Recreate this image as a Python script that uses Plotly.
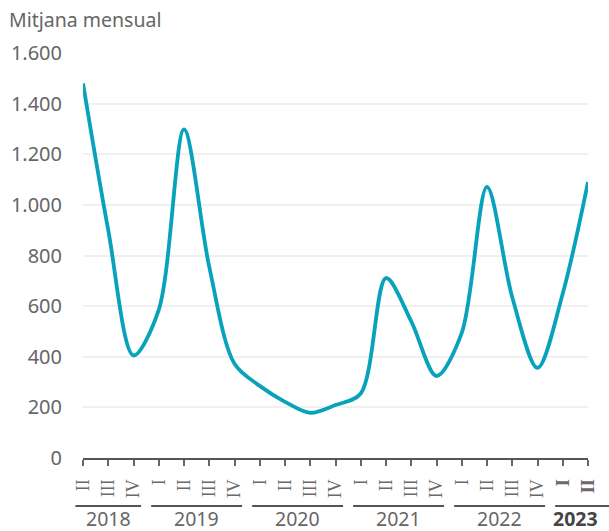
import plotly.graph_objects as go

quarters = ["II", "III", "IV",
            "I", "II", "III", "IV",
            "I", "II", "III", "IV",
            "I", "II", "III", "IV",
            "I", "II", "III", "IV",
            "I", "II"]
years = [2018] * 3 + [2019] * 4 + [2020] * 4 + [2021] * 4 + [2022] * 4 + [2023] * 2
values = [1480, 900, 405,
          585, 1298, 755, 372,
          285, 222, 178, 209,
          255, 711, 540, 324,
          494, 1071, 635, 356,
          650, 1090]
year_labels = [2018, 2019, 2020, 2021, 2022, 2023]
y_ticks = [0, 200, 400, 600, 800, 1000, 1200, 1400, 1600]

def fmt(v):
    return f"{v:,}".replace(",", ".")

x = list(range(len(values)))
tick_text = [f"<b>{q}</b>" if y == 2023 else q for q, y in zip(quarters, years)]

TEXT = "#666666"
AXIS = "#555555"
FONT = "Noto Sans"

W, H = 609, 531
ML, MR, MT, MB = 83, 21, 53, 73
PW, PH = W - ML - MR, H - MT - MB

fig = go.Figure()
fig.add_trace(go.Scatter(
    x=x, y=values, mode="lines",
    line=dict(color="#08a2bb", width=3.8, shape="spline", smoothing=0.9),
    hoverinfo="skip", showlegend=False,
))

xmin, xmax = 0, len(values) - 1

def px(v):
    return (v - xmin) / (xmax - xmin)

def py(pix):
    # pixel y from top -> paper y
    return (H - MB - pix) / PH

shapes = []
annotations = []
for yr in year_labels:
    idx = [i for i, y in enumerate(years) if y == yr]
    x0 = px(idx[0] - 0.3)
    x1 = px(idx[-1] + 0.3) if yr != 2023 else (W - ML) / PW
    shapes.append(dict(type="line", xref="paper", yref="paper",
                       x0=x0, x1=x1, y0=py(506), y1=py(506),
                       line=dict(color=AXIS, width=2)))
    cx = (px(idx[0]) + px(idx[-1])) / 2
    label = f"<b>{yr}</b>" if yr == 2023 else str(yr)
    annotations.append(dict(x=cx, y=py(518.5), xref="paper", yref="paper",
                            text=label, showarrow=False, borderpad=0,
                            font=dict(size=19.5, color=TEXT if yr != 2023 else "#444444", family=FONT),
                            xanchor="center", yanchor="middle"))

annotations.append(dict(x=-(ML - 7) / PW, y=py(19), xref="paper", yref="paper",
                        text="Mitjana mensual", showarrow=False,
                        xanchor="left", yanchor="middle",
                        font=dict(size=19.5, color=TEXT, family=FONT)))

fig.update_layout(
    width=W, height=H,
    margin=dict(l=ML, r=MR, t=MT, b=MB, autoexpand=False),
    paper_bgcolor="white", plot_bgcolor="white",
    font=dict(family=FONT, color=TEXT, size=17),
    shapes=shapes, annotations=annotations,
    xaxis=dict(
        range=[xmin, xmax], tickmode="array", tickvals=x, ticktext=tick_text,
        tickangle=-90, ticks="outside", ticklen=6, tickwidth=1.5, tickcolor="#666666",
        showline=True, linecolor=AXIS, linewidth=2, showgrid=False, zeroline=False,
        ticklabelstandoff=6,
        tickfont=dict(size=18, color="#6a6a6a", family="Liberation Serif"), fixedrange=True,
        automargin=False,
    ),
    yaxis=dict(
        range=[0, 1600], tickmode="array", tickvals=y_ticks,
        ticktext=[fmt(v) for v in y_ticks],
        showgrid=True, gridcolor="#f0f0f0", gridwidth=1.5, zeroline=False,
        showline=False, ticks="", ticklabelstandoff=20,
        tickfont=dict(size=20, color=TEXT, family=FONT), fixedrange=True,
        automargin=False,
    ),
)

fig.write_html("out.html", config={"displayModeBar": False},
               post_script="document.body.style.margin='0';document.body.style.overflow='hidden';")
